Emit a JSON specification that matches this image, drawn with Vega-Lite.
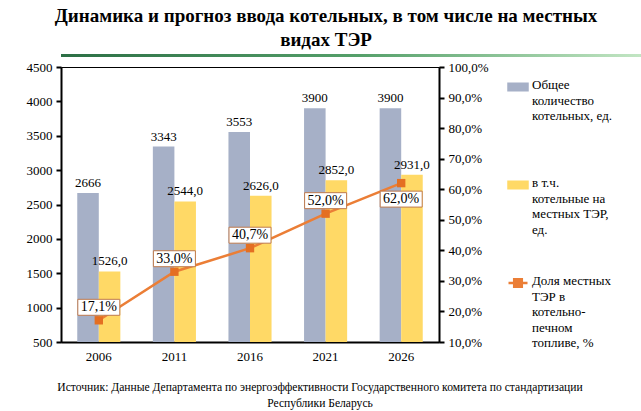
{
  "$schema": "https://vega.github.io/schema/vega-lite/v6.json",
  "padding": {"left": 25, "top": 7, "right": 5, "bottom": 0},
  "background": "white",
  "title": {
    "text": ["Источник: Данные Департамента по энергоэффективности Государственного комитета по стандартизации", "Республики Беларусь"],
    "orient": "bottom", "anchor": "start", "align": "center", "frame": "group", "font": "Liberation Serif", "fontSize": 11.6,
    "fontWeight": "normal", "lineHeight": 16, "offset": 18, "dx": 259, "color": "black"
  },
  "datasets": {
    "bars": [
      {"year": "2006", "series": "Общее количество котельных, ед.", "value": 2666},
      {"year": "2006", "series": "в т.ч. котельные на местных ТЭР, ед.", "value": 1526},
      {"year": "2011", "series": "Общее количество котельных, ед.", "value": 3343},
      {"year": "2011", "series": "в т.ч. котельные на местных ТЭР, ед.", "value": 2544},
      {"year": "2016", "series": "Общее количество котельных, ед.", "value": 3553},
      {"year": "2016", "series": "в т.ч. котельные на местных ТЭР, ед.", "value": 2626},
      {"year": "2021", "series": "Общее количество котельных, ед.", "value": 3900},
      {"year": "2021", "series": "в т.ч. котельные на местных ТЭР, ед.", "value": 2852},
      {"year": "2026", "series": "Общее количество котельных, ед.", "value": 3900},
      {"year": "2026", "series": "в т.ч. котельные на местных ТЭР, ед.", "value": 2931}
    ],
    "share": [
      {"year": "2006", "share": 0.171},
      {"year": "2011", "share": 0.33},
      {"year": "2016", "share": 0.407},
      {"year": "2021", "share": 0.52},
      {"year": "2026", "share": 0.62}
    ]
  },
  "spacing": 3,
  "vconcat": [
    {
      "width": 597, "height": 3,
      "view": {"stroke": null},
      "title": {
        "text": ["Динамика и прогноз ввода котельных, в том числе на местных", "видах ТЭР"],
        "font": "Liberation Serif", "fontSize": 19, "fontWeight": "bold", "lineHeight": 24,
        "anchor": "start", "align": "center", "frame": "group", "dx": 265, "color": "black", "offset": 4
      },
      "data": {"values": [{}]},
      "mark": {"type": "rect", "fill": {"gradient": "linear", "x1": 0, "y1": 0, "x2": 1, "y2": 0,
        "stops": [{"offset": 0, "color": "#2C6F45"}, {"offset": 0.5, "color": "#55A06A"}, {"offset": 1, "color": "#C9EAC9"}]}},
      "encoding": {}
    },
    {
      "width": 378, "height": 275,
      "view": {"stroke": "black", "strokeWidth": 1},
      "encoding": {
        "x": {"field": "year", "type": "nominal",
          "scale": {"paddingInner": 0.43, "paddingOuter": 0.215},
          "axis": {"title": null, "labelAngle": 0, "ticks": false, "domainColor": "black", "domainWidth": 2,
            "labelFont": "Liberation Serif", "labelFontSize": 13, "labelColor": "black", "labelPadding": 8}}
      },
      "layer": [
        {
          "layer": [
            {
              "data": {"name": "bars"},
              "mark": {"type": "bar", "clip": true},
              "encoding": {
                "xOffset": {"field": "series", "type": "nominal",
                  "scale": {"domain": ["Общее количество котельных, ед.", "в т.ч. котельные на местных ТЭР, ед."], "paddingInner": 0, "paddingOuter": 0}},
                "y": {"field": "value", "type": "quantitative", "stack": null,
                  "scale": {"domain": [500, 4500], "zero": false, "nice": false},
                  "axis": {"orient": "left", "values": [500, 1000, 1500, 2000, 2500, 3000, 3500, 4000, 4500], "tickCount": 12, "format": "d", "labelOverlap": false, "title": null, "grid": false,
                    "domainColor": "black", "domainWidth": 2, "tickColor": "black", "tickWidth": 2, "tickSize": 5,
                    "labelFont": "Liberation Serif", "labelFontSize": 13, "labelColor": "black", "labelPadding": 4}},
                "color": {"field": "series", "type": "nominal",
                  "scale": {"domain": ["Общее количество котельных, ед.", "в т.ч. котельные на местных ТЭР, ед.", "Доля местных ТЭР в котельно-печном топливе, %"],
                    "range": ["#A6B0C7", "#FFD966", "#EB7E36"]},
                  "legend": {
                    "orient": "none", "legendX": 446, "legendY": 22, "direction": "vertical", "title": null, "symbolSize": 361,
                    "labelFont": "Liberation Serif", "labelFontSize": 13, "labelColor": "black", "labelLimit": 200, "labelBaseline": "top",
                    "rowPadding": 20, "labelOffset": 3,
                    "labelExpr": "datum.label == 'Общее количество котельных, ед.' ? ['Общее','количество','котельных, ед.','',''] : datum.label == 'в т.ч. котельные на местных ТЭР, ед.' ? ['в т.ч.','котельные на','местных ТЭР,','ед.',''] : ['Доля местных','ТЭР в','котельно-','печном','топливе, %']",
                    "encode": {
                      "symbols": {"update": {
                        "shape": {"signal": "datum.value == 'Доля местных ТЭР в котельно-печном топливе, %' ? 'M-1,0H1M-0.4,-0.4H0.4V0.4H-0.4Z' : 'M-1,-0.35H1V0.35H-1Z'"},
                        "stroke": {"signal": "datum.value == 'Доля местных ТЭР в котельно-печном топливе, %' ? '#EB7E36' : 'transparent'"},
                        "strokeWidth": {"value": 2.5},
                        "opacity": {"value": 1}
                      }},
                      "labels": {"update": {"dy": {"value": -8}, "lineHeight": {"value": 15.5}, "font": {"value": "Liberation Serif"}}}
                    }
                  }}
              }
            },
            {
              "data": {"name": "bars"},
              "transform": [{"filter": {"field": "series", "equal": "Общее количество котельных, ед."}}],
              "mark": {"type": "text", "baseline": "alphabetic", "dy": -6, "font": "Liberation Serif", "fontSize": 13, "color": "black"},
              "encoding": {
                "xOffset": {"field": "series", "type": "nominal"},
                "y": {"field": "value", "type": "quantitative"},
                "text": {"field": "value", "type": "quantitative", "format": "d"}
              }
            },
            {
              "data": {"name": "bars"},
              "transform": [{"filter": {"field": "series", "equal": "в т.ч. котельные на местных ТЭР, ед."}}],
              "mark": {"type": "text", "baseline": "alphabetic", "dy": -6, "font": "Liberation Serif", "fontSize": 13, "color": "black"},
              "encoding": {
                "xOffset": {"field": "series", "type": "nominal"},
                "y": {"field": "value", "type": "quantitative"},
                "text": {"field": "value", "type": "quantitative", "format": ".1f"}
              }
            }
          ]
        },
        {
          "data": {"name": "share"},
          "layer": [
            {
              "mark": {"type": "line", "strokeWidth": 2.5},
              "encoding": {
                "y": {"field": "share", "type": "quantitative",
                  "scale": {"domain": [0.1, 1], "zero": false, "nice": false},
                  "axis": {"orient": "right", "values": [0.1, 0.2, 0.3, 0.4, 0.5, 0.6, 0.7, 0.8, 0.9, 1.0], "tickCount": 12, "format": ".1%", "labelOverlap": false, "title": null, "grid": false,
                    "domainColor": "black", "domainWidth": 2, "tickColor": "black", "tickWidth": 2, "tickSize": 5,
                    "labelFont": "Liberation Serif", "labelFontSize": 13, "labelColor": "black", "labelPadding": 4}},
                "color": {"datum": "Доля местных ТЭР в котельно-печном топливе, %", "type": "nominal"}
              }
            },
            {
              "mark": {"type": "square", "size": 70, "color": "#E46F22", "filled": true, "opacity": 1},
              "encoding": {"y": {"field": "share", "type": "quantitative"}}
            },
            {
              "transform": [{"filter": "datum.year != '2026'"}],
              "mark": {"type": "point", "shape": "M-1,-0.38H1V0.38H-1Z", "size": 1764, "filled": true, "fill": "white", "stroke": "#BE7A4E", "strokeWidth": 1, "opacity": 1, "yOffset": -13},
              "encoding": {"y": {"field": "share", "type": "quantitative"}}
            },
            {
              "transform": [{"filter": "datum.year == '2026'"}],
              "mark": {"type": "point", "shape": "M-1,-0.38H1V0.38H-1Z", "size": 1764, "filled": true, "fill": "white", "stroke": "#BE7A4E", "strokeWidth": 1, "opacity": 1, "yOffset": 16},
              "encoding": {"y": {"field": "share", "type": "quantitative"}}
            },
            {
              "transform": [{"filter": "datum.year != '2026'"}],
              "mark": {"type": "text", "dy": -13, "font": "Liberation Serif", "fontSize": 14, "color": "black"},
              "encoding": {"y": {"field": "share", "type": "quantitative"}, "text": {"field": "share", "type": "quantitative", "format": ".1%"}}
            },
            {
              "transform": [{"filter": "datum.year == '2026'"}],
              "mark": {"type": "text", "dy": 16, "font": "Liberation Serif", "fontSize": 14, "color": "black"},
              "encoding": {"y": {"field": "share", "type": "quantitative"}, "text": {"field": "share", "type": "quantitative", "format": ".1%"}}
            }
          ]
        }
      ],
      "resolve": {"scale": {"y": "independent"}}
    }
  ],
  "config": {
    "font": "Liberation Serif",
    "view": {"stroke": null},
    "axis": {"labelOverlap": false, "labelFont": "Liberation Serif"},
    "title": {"font": "Liberation Serif", "subtitleFont": "Liberation Serif"},
    "legend": {"labelFont": "Liberation Serif"},
    "locale": {"number": {"decimal": ",", "thousands": " ", "grouping": [3], "currency": ["", ""]}}
  }
}
